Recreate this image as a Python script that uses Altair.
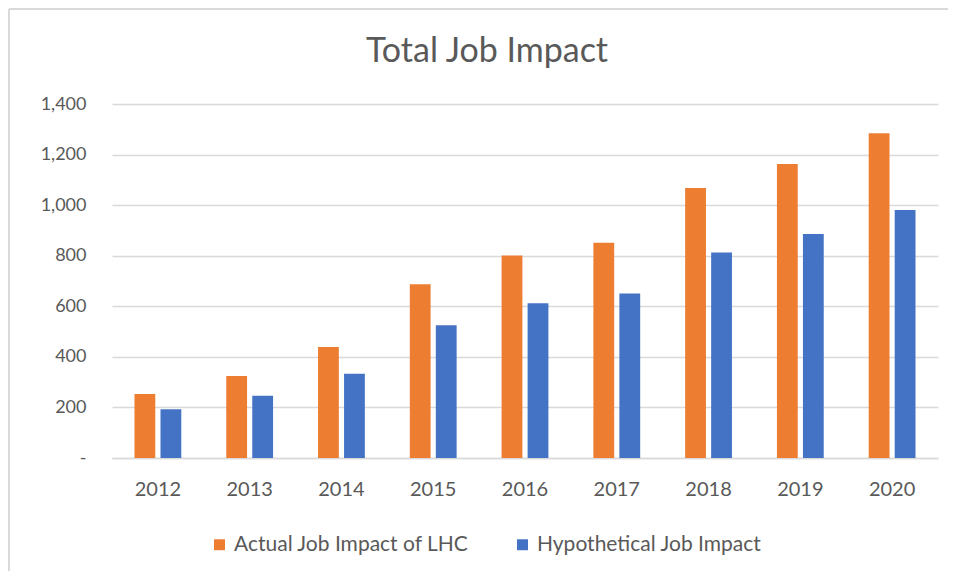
import altair as alt
import pandas as pd

years = ["2012", "2013", "2014", "2015", "2016", "2017", "2018", "2019", "2020"]
actual = [253, 324, 439, 687, 801, 851, 1068, 1163, 1284]
hypothetical = [193, 246, 333, 525, 612, 651, 813, 886, 981]
series_names = ["Actual Job Impact of LHC", "Hypothetical Job Impact"]
series_colors = ["#ED7D31", "#4472C4"]
y_ticks = [0, 200, 400, 600, 800, 1000, 1200, 1400]

rows = []
for i, yr in enumerate(years):
    rows.append({"year": yr, "series": series_names[0], "value": actual[i]})
    rows.append({"year": yr, "series": series_names[1], "value": hypothetical[i]})
df = pd.DataFrame(rows)

FONT = "Lato"
TXT = "#595959"

bars = alt.Chart(df).mark_bar().encode(
    x=alt.X("year:N", sort=years, title=None,
            scale=alt.Scale(paddingInner=0.49, paddingOuter=0.245),
            axis=alt.Axis(labelAngle=0, labelFontSize=20, labelColor=TXT, labelFont=FONT,
                          labelPadding=21, ticks=False, domain=True, domainColor="#d9d9d9",
                          domainWidth=1.5)),
    xOffset=alt.XOffset("series:N", sort=series_names,
                        scale=alt.Scale(paddingInner=0.2, paddingOuter=0)),
    y=alt.Y("value:Q", title=None,
            scale=alt.Scale(domain=[0, 1400], nice=False),
            axis=alt.Axis(values=y_ticks, labelFontSize=18, labelColor=TXT, labelFont=FONT,
                          labelPadding=26, ticks=False, domain=False,
                          gridColor="#d9d9d9", gridWidth=1.5,
                          labelExpr="datum.value == 0 ? '-' : format(datum.value, ',')")),
    color=alt.Color("series:N", sort=series_names,
                    scale=alt.Scale(domain=series_names, range=series_colors),
                    legend=alt.Legend(title=None, orient="none", legendX=97, legendY=430,
                                      direction="horizontal", symbolType="square",
                                      symbolSize=120, symbolStrokeWidth=0,
                                      labelFontSize=21, labelColor=TXT, labelFont=FONT,
                                      labelLimit=400, columnPadding=43, labelOffset=4)),
)

# light outer frame of the chart: only its top and left edges fall inside the page
one = pd.DataFrame({"f": [0]})
frame_top = alt.Chart(one).mark_rule(color="#d9d9d9", strokeWidth=2).encode(
    x=alt.value(-103), x2=alt.value(836), y=alt.value(-95)
)
frame_left = alt.Chart(one).mark_rule(color="#d9d9d9", strokeWidth=2).encode(
    x=alt.value(-103), y=alt.value(-95), y2=alt.value(467)
)

chart = alt.layer(frame_top, frame_left, bars).properties(
    width=826, height=354,
    background="white",
    title=alt.TitleParams("Total Job Impact", fontSize=34, font=FONT, color=TXT,
                          fontWeight="normal", anchor="middle", offset=0, dy=61, dx=-38),
    autosize=alt.AutoSizeParams(type="none"),
    padding={"left": 104, "top": 96, "right": 10, "bottom": 113},
).configure_view(strokeWidth=0, stroke="transparent")

chart.save("out.html", embed_options={"renderer": "svg", "actions": False})
